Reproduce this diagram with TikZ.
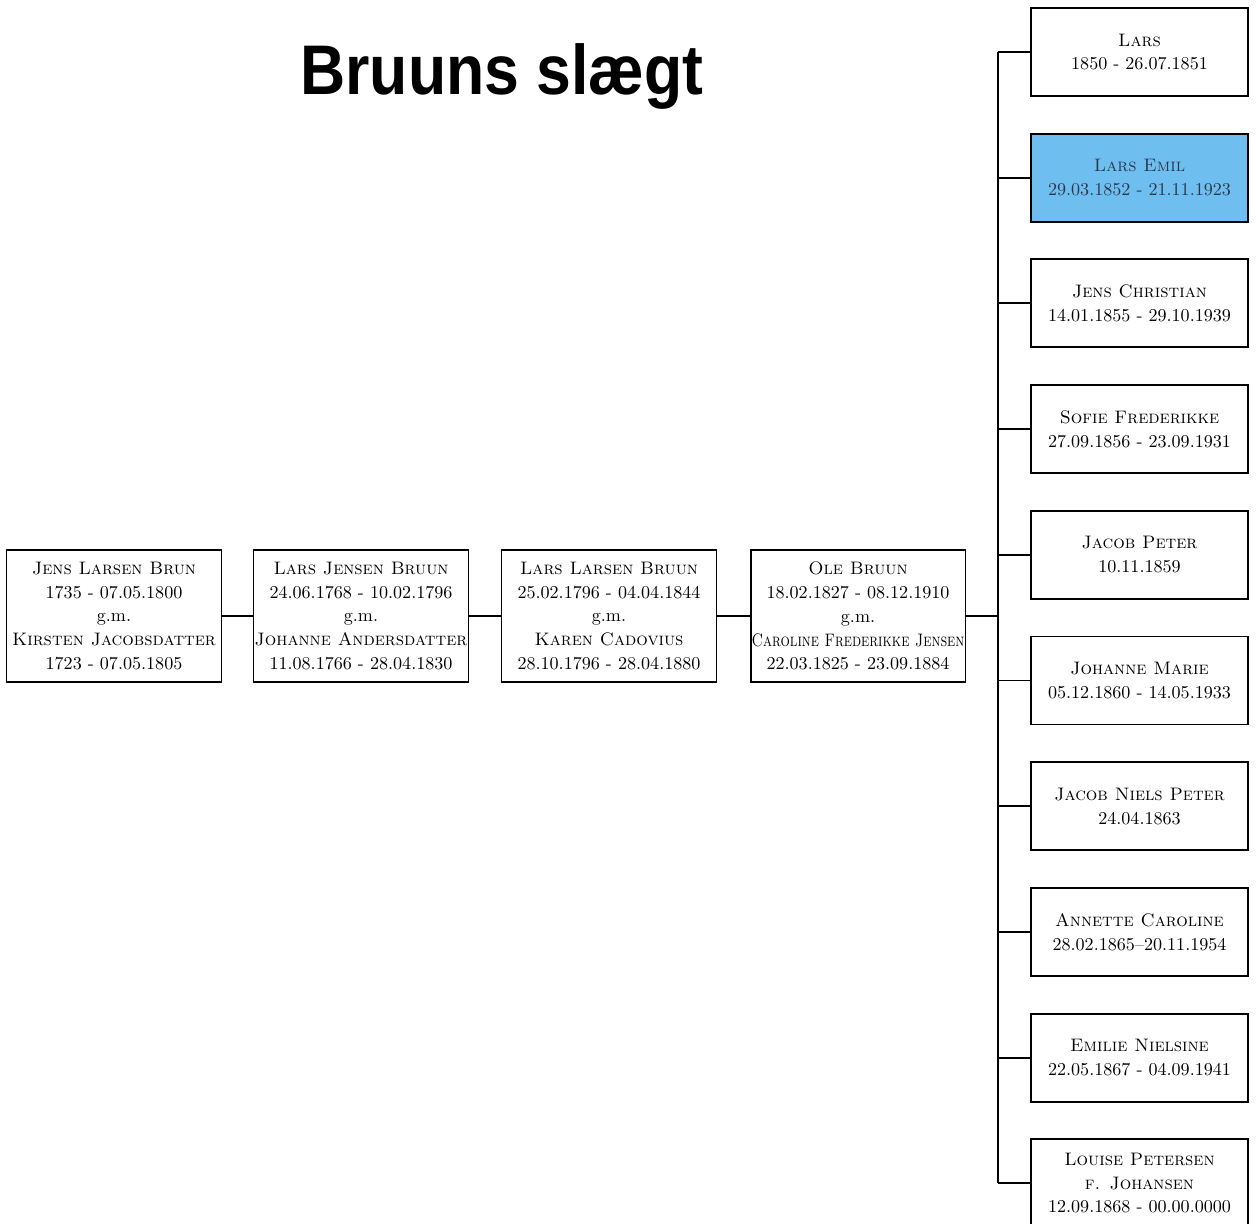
\documentclass[tikz,border=0pt]{standalone}
\usepackage{fontspec}
\usepackage{graphicx}
\newfontfamily\titlefont{Liberation Sans}
\usetikzlibrary{calc}
\definecolor{emilblue}{RGB}{110,190,240}
\definecolor{emilink}{RGB}{45,55,75}
\tikzset{
  person/.style={draw,line width=1.1pt,fill=white,align=center,inner sep=0pt,
    font=\fontsize{10.3}{13.6}\selectfont},
  elderbox/.style={person,minimum width=4.3cm,minimum height=2.64cm},
  kidbox/.style={person,minimum width=4.34cm,minimum height=1.76cm},
  markedbox/.style={kidbox,fill=emilblue,text=emilink},
  link/.style={line width=1.1pt}
}

\begin{document}
\begin{tikzpicture}[x=0.02cm,y=-0.02cm]
    \useasboundingbox (0,0) rectangle (1256,1223);
    \node[anchor=base,font=\titlefont\bfseries\fontsize{40}{40}\selectfont] (title) at (502,95) {\scalebox{0.89}[1]{Bruuns slægt}};

    % the line of fathers
    \node[elderbox] (p1) at (114,616) {\textsc{Jens Larsen Brun}\\1735 - 07.05.1800\\g.m.\\\textsc{Kirsten Jacobsdatter}\\1723 - 07.05.1805};
    \node[elderbox] (p2) at (361,616) {\textsc{Lars Jensen Bruun}\\24.06.1768 - 10.02.1796\\g.m.\\\textsc{Johanne Andersdatter}\\11.08.1766 - 28.04.1830};
    \node[elderbox] (p3) at (609,616) {\textsc{Lars Larsen Bruun}\\25.02.1796 - 04.04.1844\\g.m.\\\textsc{Karen Cadovius}\\28.10.1796 - 28.04.1880};
    \node[elderbox] (p4) at (858,616) {\textsc{Ole Bruun}\\18.02.1827 - 08.12.1910\\g.m.\\\scalebox{0.81}[1]{\textsc{Caroline Frederikke Jensen}}\\22.03.1825 - 23.09.1884};
    \coordinate (bus) at (998,616);
    \draw[link] (p1) -- (p2);
    \draw[link] (p2) -- (p3);
    \draw[link] (p3) -- (p4);
    \draw[link] (p4) -- (bus);

    % the children of Ole Bruun
    \foreach \who/\dates/\look [count=\k] in {
        Lars/1850 - 26.07.1851/kidbox,
        Lars Emil/29.03.1852 - 21.11.1923/markedbox,
        Jens Christian/14.01.1855 - 29.10.1939/kidbox,
        Sofie Frederikke/27.09.1856 - 23.09.1931/kidbox,
        Jacob Peter/10.11.1859/kidbox,
        Johanne Marie/05.12.1860 - 14.05.1933/kidbox,
        Jacob Niels Peter/24.04.1863/kidbox,
        Annette Caroline/28.02.1865--20.11.1954/kidbox,
        Emilie Nielsine/22.05.1867 - 04.09.1941/kidbox} {
        \node[\look] (c\k) at (1139.5,{52+125.7*(\k-1)}) {\textsc{\who}\\\dates};
        \draw[link] (c\k.west) -- (c\k.west -| bus);
      }
    \node[kidbox] (c10) at (1139.5,1183) {\textsc{Louise Petersen}\\\textsc{f. Johansen}\\12.09.1868 - 00.00.0000};
    \draw[link] (c10.west) -- (c10.west -| bus);
    \draw[link] (c1.west -| bus) -- (c10.west -| bus);
  \end{tikzpicture}
\end{document}
